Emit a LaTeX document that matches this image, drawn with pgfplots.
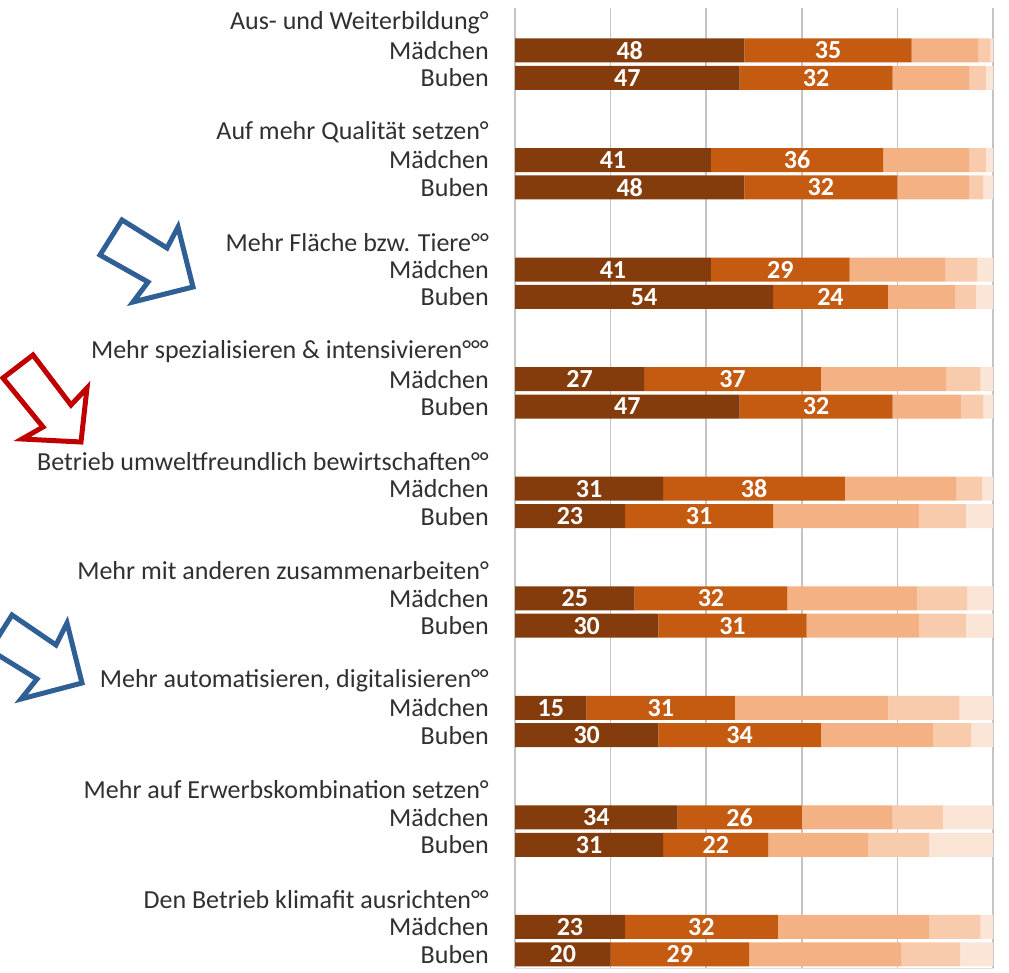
\documentclass[border=0pt]{standalone}
\usepackage{fontspec}
\setmainfont{Carlito}
\usepackage{pgfplots}
\usepackage{pgfplotstable}
\pgfplotsset{compat=1.18}

\definecolor{c1}{HTML}{843C0C}
\definecolor{c2}{HTML}{C55A11}
\definecolor{c3}{HTML}{F4B183}
\definecolor{c4}{HTML}{F8CBAD}
\definecolor{c5}{HTML}{FBE5D6}
\definecolor{txt}{HTML}{303030}
\definecolor{gridgray}{HTML}{C4C4C4}
\definecolor{arrblue}{HTML}{2F5F94}
\definecolor{arrred}{HTML}{C00000}

% pos: group g -> title at 4g, Mädchen at 4g+1, Buben at 4g+2
\pgfplotstableread{
pos a  b  c    d    e
1   48 35 14   2.5  0.5
2   47 32 16   3.5  1.5
5   41 36 18   3.5  1.5
6   48 32 15   3    2
9   41 29 20   6.7  3.3
10  54 24 14   4.4  3.6
13  27 37 26.3 7.1  2.6
14  47 32 14.4 4.6  2
17  31 38 23.4 5.4  2.2
18  23 31 30.5 9.8  5.7
21  25 32 27.2 10.4 5.4
22  30 31 23.5 9.8  5.7
25  15 31 32.1 14.9 7
26  30 34 23.4 8.1  4.5
29  34 26 19   10.5 10.5
30  31 22 20.9 12.7 13.4
33  23 32 31.6 10.8 2.6
34  20 29 31.9 12.2 6.9
}\data

\begin{document}
\begin{tikzpicture}
\begin{axis}[
  at={(515pt,-8pt)}, anchor=north west,
  scale only axis, width=478pt, height=960pt,
  xbar stacked, bar width=24pt,
  xmin=0, xmax=100, ymin=-0.55, ymax=34.5, y dir=reverse,
  xtick={0,20,...,100}, xticklabels={},
  xmajorgrids, major grid style={draw=gridgray, line width=1.6pt},
  major tick length=0pt,
  axis line style={draw=none},
  ytick={0,1,2,4,5,6,8,9,10,12,13,14,16,17,18,20,21,22,24,25,26,28,29,30,32,33,34},
  yticklabels={Aus- und Weiterbildung°, Mädchen, Buben,
    Auf mehr Qualität setzen°, Mädchen, Buben,
    Mehr Fläche bzw. Tiere°°, Mädchen, Buben,
    Mehr spezialisieren \& intensivieren°°°, Mädchen, Buben,
    Betrieb umweltfreundlich bewirtschaften°°, Mädchen, Buben,
    Mehr mit anderen zusammenarbeiten°, Mädchen, Buben,
    {Mehr automatisieren, digitalisieren°°}, Mädchen, Buben,
    Mehr auf Erwerbskombination setzen°, Mädchen, Buben,
    Den Betrieb klimafit ausrichten°°, Mädchen, Buben},
  yticklabel style={font=\fontsize{26}{30}\selectfont, text=txt, anchor=east, inner sep=0pt, xshift=-26pt},
  every node near coord/.append style={anchor=center, text=white, font=\bfseries\fontsize{26}{30}\selectfont},
]
\addplot[fill=c1, draw=none, point meta=explicit symbolic, nodes near coords]
  table[x=a, y=pos, meta=a] {\data};
\addplot[fill=c2, draw=none, point meta=explicit symbolic, nodes near coords]
  table[x=b, y=pos, meta=b] {\data};
\addplot[fill=c3, draw=none] table[x=c, y=pos] {\data};
\addplot[fill=c4, draw=none] table[x=d, y=pos] {\data};
\addplot[fill=c5, draw=none] table[x=e, y=pos] {\data};
\draw[gridgray!60, line width=1pt] (axis cs:0,34.5) -- (axis cs:100,34.5);
\end{axis}

% hand-drawn style arrows
\begin{scope}[x=1pt, y=-1pt, line width=5pt, line join=miter]
\draw[arrblue] (122,220) -- (167,248) -- (178,227) -- (193,287) -- (133,302) -- (148,282) -- (100,255) -- cycle;
\draw[arrred] (33,355) -- (71,405) -- (87,388) -- (81,442) -- (22,439) -- (43,427) -- (3,378) -- cycle;
\draw[arrblue] (12,615) -- (56,645) -- (67,623) -- (82,683) -- (21,699) -- (37,679) -- (-10,650) -- cycle;
\end{scope}

\pgfresetboundingbox
\path[use as bounding box] (0pt,0pt) rectangle (1009pt,-973pt);
\end{tikzpicture}
\end{document}
